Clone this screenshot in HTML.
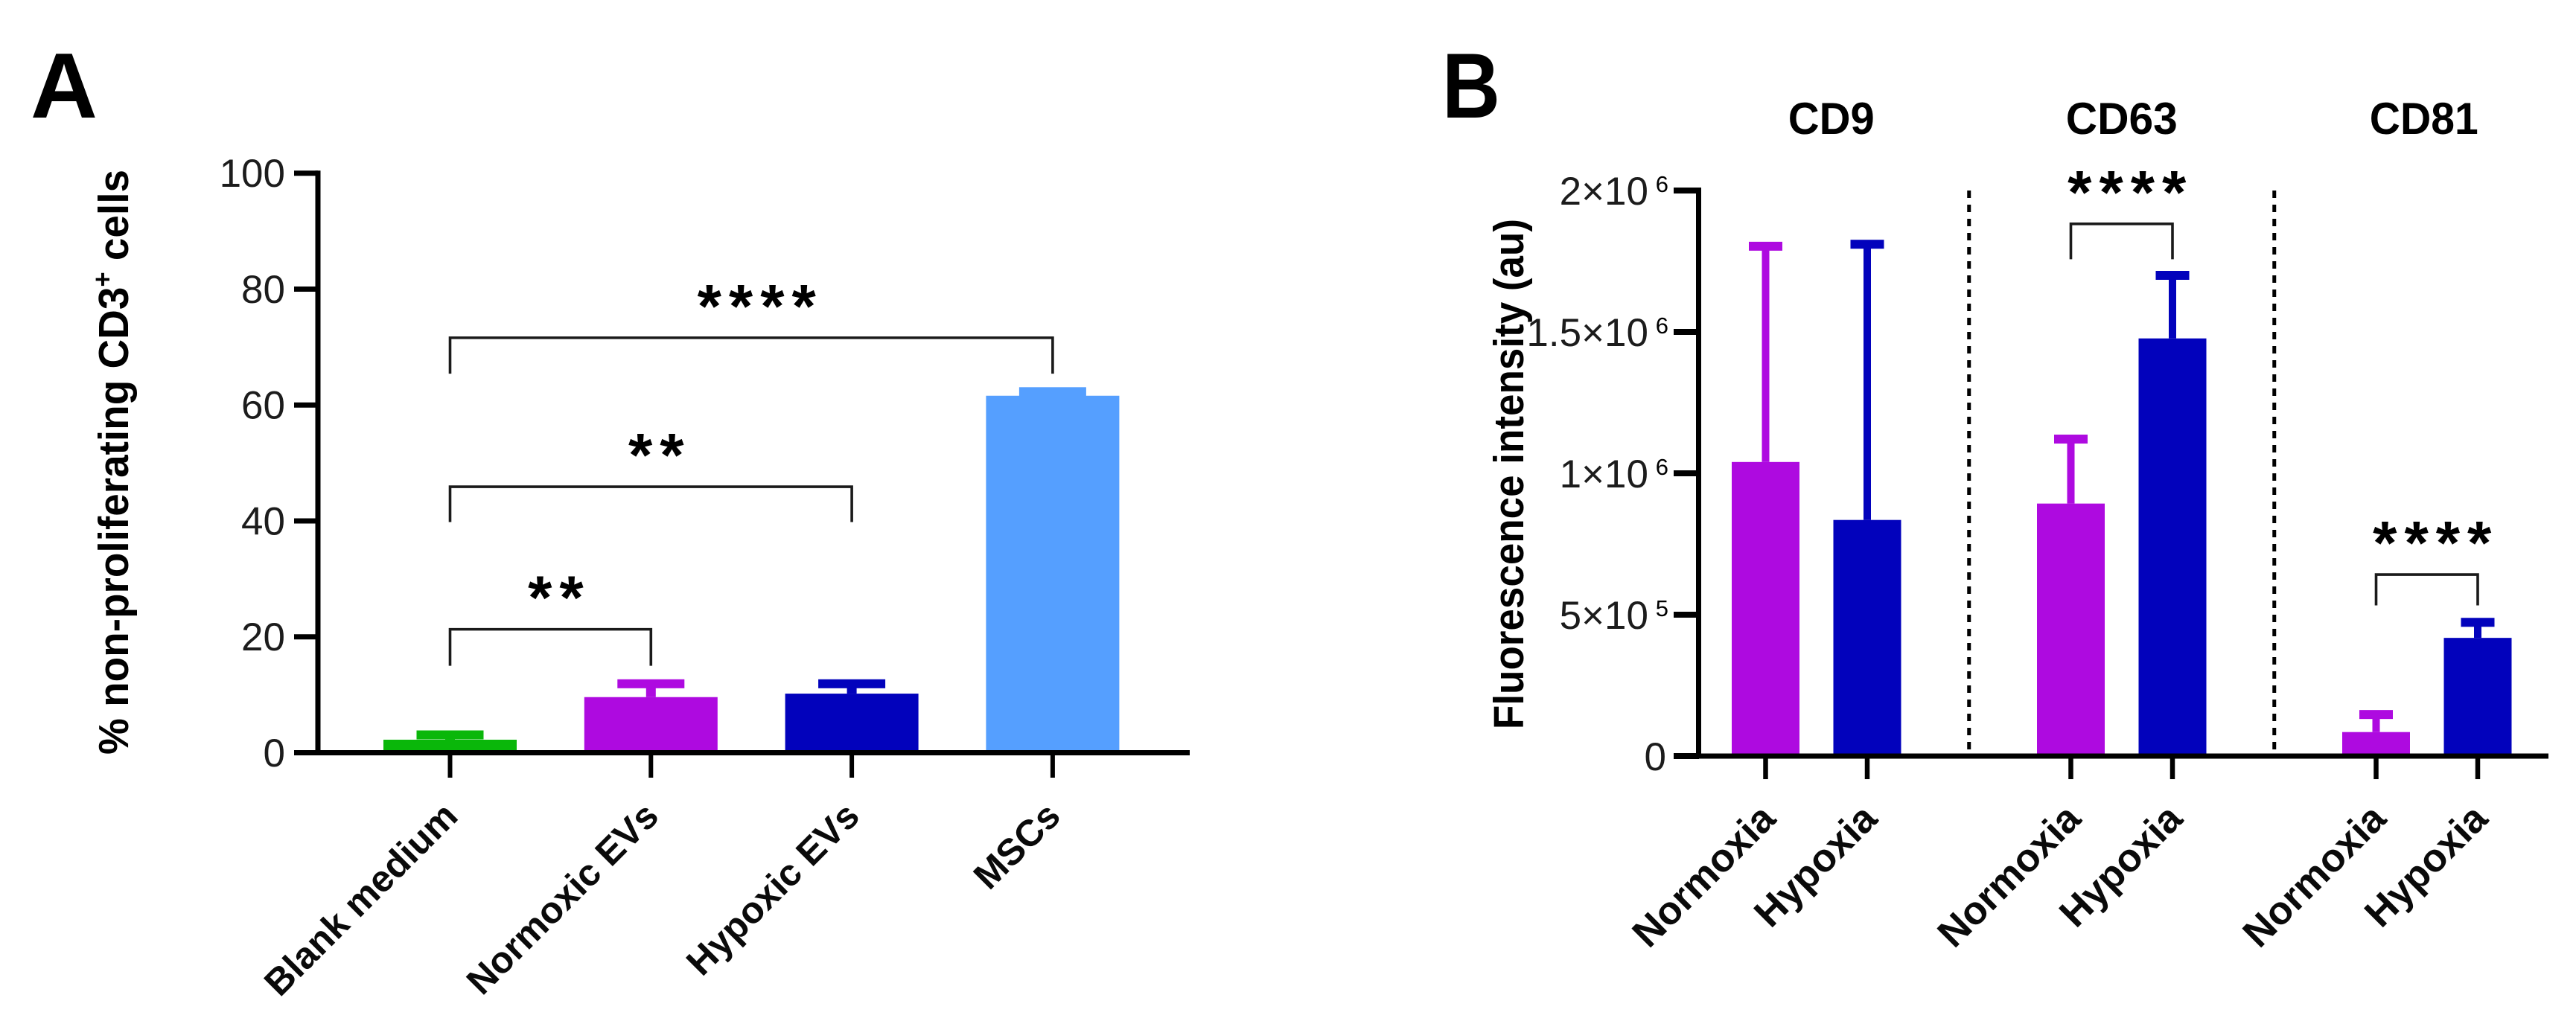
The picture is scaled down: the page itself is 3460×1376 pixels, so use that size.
<!DOCTYPE html>
<html lang="en">
<head>
<meta charset="utf-8">
<title>Panels A and B bar charts</title>
<style>
html,body{margin:0;padding:0;background:#fff;}
svg{display:block;}
text{font-family:"Liberation Sans",sans-serif;fill:#000;}
.tick{fill:#1c1c1c;font-size:53px;}
.lab{font-weight:bold;fill:#0a0a0a;}
.star{font-weight:bold;font-size:83px;letter-spacing:10px;text-anchor:middle;}
</style>
</head>
<body>
<svg id="fig" xmlns="http://www.w3.org/2000/svg" width="3460" height="1376" viewBox="0 0 3460 1376">
  <rect x="0" y="0" width="3460" height="1376" fill="#fff"/>
  <text x="41" y="158" font-size="124" font-weight="bold" textLength="90" lengthAdjust="spacingAndGlyphs">A</text>
  <text x="1937" y="158" font-size="124" font-weight="bold" textLength="78" lengthAdjust="spacingAndGlyphs">B</text>
  <text transform="translate(172,1014) rotate(-90)" font-size="57" font-weight="bold" textLength="786" lengthAdjust="spacingAndGlyphs">% non-proliferating CD3<tspan font-size="36" dy="-22">+</tspan><tspan dy="22"> cells</tspan></text>
  <text transform="translate(2046,980) rotate(-90)" font-size="57" font-weight="bold" textLength="686" lengthAdjust="spacingAndGlyphs">Fluorescence intensity (au)</text>
  <g id="panelA"></g>
  <g id="panelB"></g>
</svg>
<script>
// ---------- Panel A data ----------
const catsA = ['Blank medium', 'Normoxic EVs', 'Hypoxic EVs', 'MSCs'];
const meansA = [2.25, 9.6, 10.2, 61.6];
const upperA = [3.08, 11.9, 11.9, 62.3];
const yTicksA = [0, 20, 40, 60, 80, 100];
const bracketFromA = [0, 0, 0];
const bracketToA = [1, 2, 3];
const bracketLevelA = [21.3, 45.9, 71.6];
const bracketLegA = [15, 39.8, 65.4];
const bracketStarsA = ['**', '**', '****'];

// ---------- Panel B data ----------
const groupsB = ['CD9', 'CD63', 'CD81'];
const condsB = ['Normoxia', 'Hypoxia'];
const meansNormoxiaB = [1040000, 893000, 85000];
const meansHypoxiaB = [835000, 1477000, 418000];
const upperNormoxiaB = [1803000, 1121000, 147000];
const upperHypoxiaB = [1810000, 1700000, 473000];
const yTicksB = [0, 500000, 1000000, 1500000, 2000000];
const yTickTextB = ['0', '5×10', '1×10', '1.5×10', '2×10'];
const yTickExpB = ['', '5', '6', '6', '6'];
const bracketGroupB = [1, 2];
const bracketLevelB = [1882000, 642000];
const bracketLegB = [1757000, 533000];
const bracketStarsB = ['****', '****'];

// ---------- Styles / layout constants ----------
const fillsA = ['#0AB70A', '#AE0AE0', '#0202BC', '#559FFF'];
const condFillsB = ['#AE0AE0', '#0202BC'];
const headerNudgeB = [20, 0, -4];
const headerWidthB = [116, 150, 146];

const NS = 'http://www.w3.org/2000/svg';
function mk(parent, tag, attrs) {
  const el = document.createElementNS(NS, tag);
  for (const k in attrs) el.setAttribute(k, attrs[k]);
  parent.appendChild(el);
  return el;
}
function slug(s) { return String(s).toLowerCase().replace(/[^a-z0-9]+/g, '-'); }

// ---------- Axis functions ----------
function yA(v) { return 1011.5 - v * 7.788; }
function xA(i) { return 604.5 + i * 269.8; }
function yB(v) { return 1016 - v * 380 / 1000000; }
function xB(g, c) { return 2371.5 + g * 410 + c * 136.5; }

function barWithError(g, cx, yFn, mean, upper, bw, capW, stemW, fill, name) {
  const yBase = yFn(0), yTop = yFn(mean), yCap = yFn(upper);
  const stem = mk(g, 'rect', {x: cx - stemW / 2, y: yCap, width: stemW, height: Math.max(0, yTop - yCap), fill: fill});
  
  
  const cap = mk(g, 'rect', {x: cx - capW / 2, y: yCap - 6, width: capW, height: 12, fill: fill});
  
  
  const bar = mk(g, 'rect', {x: cx - bw / 2, y: yTop, width: bw, height: yBase - yTop, fill: fill});
  
  
}

function drawBracket(g, x1, x2, yTopPx, yLegPx, stars, name) {
  const path = mk(g, 'path', {
    d: 'M' + x1 + ' ' + yLegPx + 'V' + yTopPx + 'H' + x2 + 'V' + yLegPx,
    fill: 'none', stroke: '#1a1a1a', 'stroke-width': 3.6
  });
  
  
  const t = mk(g, 'text', {class: 'star', x: (x1 + x2) / 2 + 12, y: yTopPx - 14});
  
  
  t.textContent = stars;
}

function xLabel(g, x, y, txt, size, name) {
  const t = mk(g, 'text', {class: 'lab', 'font-size': size, 'text-anchor': 'end', transform: 'translate(' + x + ',' + y + ') rotate(-45)'});
  
  
  t.textContent = txt;
}

// ---------- Panel A ----------
const gA = document.getElementById('panelA');
catsA.forEach(function (c, i) {
  barWithError(gA, xA(i), yA, meansA[i], upperA[i], 179, 90, 13, fillsA[i], slug(c));
});
bracketFromA.forEach(function (from, i) {
  drawBracket(gA, xA(from), xA(bracketToA[i]), yA(bracketLevelA[i]), yA(bracketLegA[i]), bracketStarsA[i], 'a-' + i);
});
const axisYA = mk(gA, 'line', {x1: 427, x2: 427, y1: yA(100) - 3.5, y2: yA(0) + 3.5, stroke: '#000', 'stroke-width': 7});


const axisXA = mk(gA, 'line', {x1: 395, x2: 1598, y1: yA(0), y2: yA(0), stroke: '#000', 'stroke-width': 7});


yTicksA.forEach(function (v) {
  const tk = mk(gA, 'line', {x1: 395, x2: 427, y1: yA(v), y2: yA(v), stroke: '#000', 'stroke-width': 7});
  
  
  const t = mk(gA, 'text', {class: 'tick', 'text-anchor': 'end', x: 383, y: yA(v) + 18.5});
  
  
  t.textContent = v;
});
catsA.forEach(function (c, i) {
  const tk = mk(gA, 'line', {x1: xA(i), x2: xA(i), y1: yA(0), y2: 1045, stroke: '#000', 'stroke-width': 6});
  
  
  xLabel(gA, xA(i) + 13, yA(0) + 88, c, 50, slug(c));
});

// ---------- Panel B ----------
const gB = document.getElementById('panelB');
const meansB = [meansNormoxiaB, meansHypoxiaB];
const upperB = [upperNormoxiaB, upperHypoxiaB];
groupsB.forEach(function (grp, g) {
  condsB.forEach(function (cond, c) {
    barWithError(gB, xB(g, c), yB, meansB[c][g], upperB[c][g], 91, 45, 10, condFillsB[c], slug(grp) + '-' + slug(cond));
  });
  const head = mk(gB, 'text', {'text-anchor': 'middle', x: (xB(g, 0) + xB(g, 1)) / 2 + headerNudgeB[g], y: 180, 'font-size': 60, 'font-weight': 'bold', textLength: headerWidthB[g], lengthAdjust: 'spacingAndGlyphs'});
  
  
  head.textContent = grp;
  if (g > 0) {
    const xd = (xB(g - 1, 1) + xB(g, 0)) / 2;
    const div = mk(gB, 'line', {x1: xd, x2: xd, y1: yB(2000000), y2: 1009, stroke: '#000', 'stroke-width': 5, 'stroke-dasharray': '10 9'});
    
    
  }
});
bracketGroupB.forEach(function (g, i) {
  drawBracket(gB, xB(g, 0), xB(g, 1), yB(bracketLevelB[i]), yB(bracketLegB[i]), bracketStarsB[i], 'b-' + slug(groupsB[g]));
});
const axisYB = mk(gB, 'line', {x1: 2281.5, x2: 2281.5, y1: yB(2000000) - 4, y2: yB(0) + 3.5, stroke: '#000', 'stroke-width': 7});


const axisXB = mk(gB, 'line', {x1: 2248, x2: 3423, y1: yB(0), y2: yB(0), stroke: '#000', 'stroke-width': 7});


yTicksB.forEach(function (v, i) {
  const tk = mk(gB, 'line', {x1: 2248, x2: 2282, y1: yB(v), y2: yB(v), stroke: '#000', 'stroke-width': 8});
  
  
  const t = mk(gB, 'text', {class: 'tick', 'text-anchor': 'end', x: yTickExpB[i] ? 2214 : 2238, y: yB(v) + 19});
  
  
  t.textContent = yTickTextB[i];
  if (yTickExpB[i]) {
    const e = mk(gB, 'text', {'text-anchor': 'end', x: 2241, y: yB(v) + 2, 'font-size': 31, fill: '#444'});
    
    
    e.textContent = yTickExpB[i];
  }
});
groupsB.forEach(function (grp, g) {
  condsB.forEach(function (cond, c) {
    const tk = mk(gB, 'line', {x1: xB(g, c), x2: xB(g, c), y1: yB(0), y2: 1047, stroke: '#000', 'stroke-width': 6.5});
    
    
    xLabel(gB, xB(g, c) + 16, yB(0) + 87, cond, 53, slug(grp) + '-' + slug(cond));
  });
});
</script>
</body>
</html>
